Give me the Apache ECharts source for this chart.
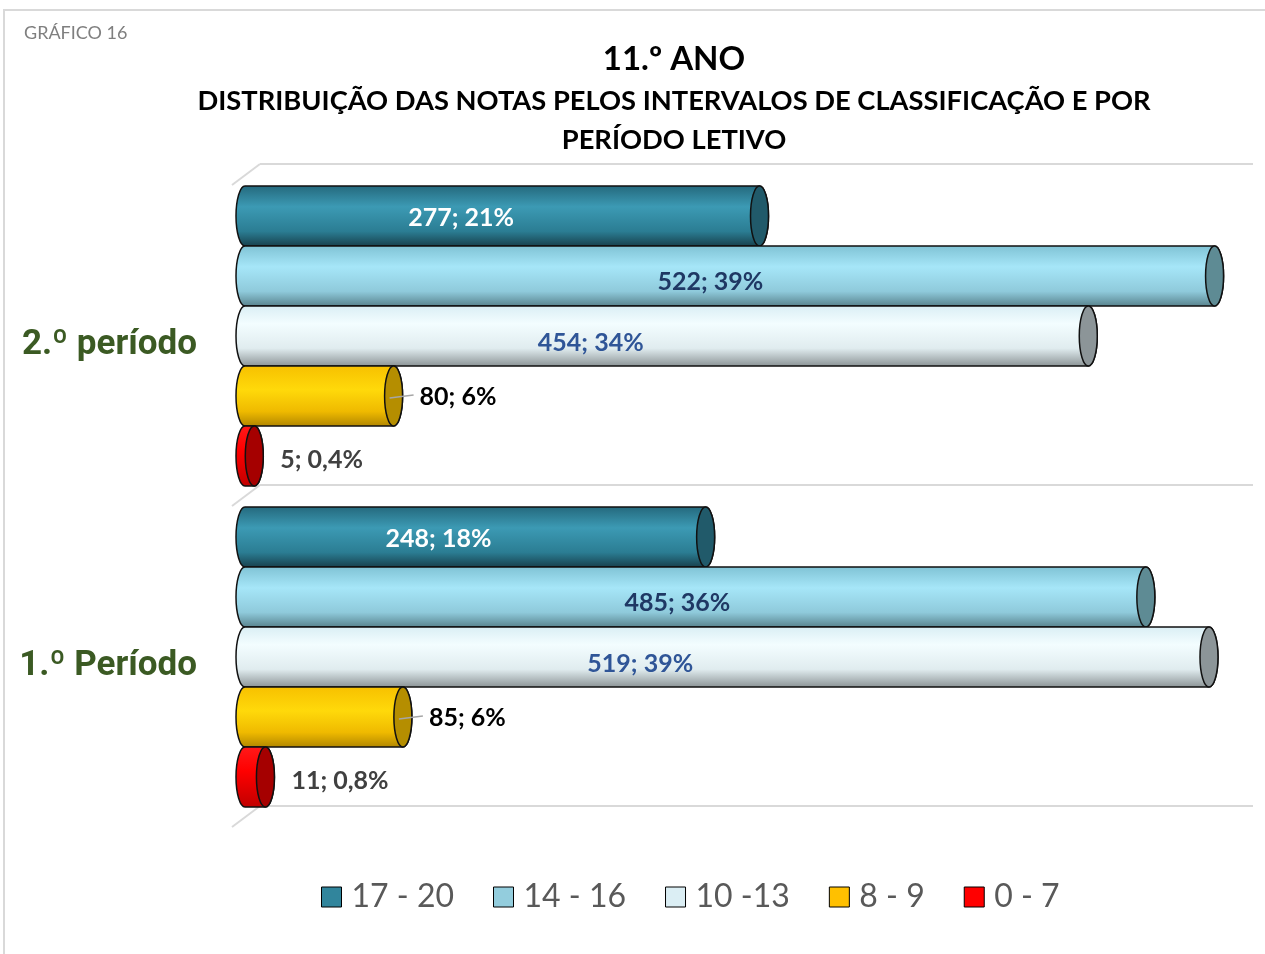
<!DOCTYPE html>
<html><head><meta charset="utf-8">
<script src="https://cdn.jsdelivr.net/npm/echarts@6/dist/echarts.min.js"></script>
<style>html,body{margin:0;padding:0;background:#fff}#c{width:1265px;height:954px}</style>
</head><body><div id="c"></div>
<script>
// ---- data ----
const categories = ['1.º Período', '2.º período'];
const seriesNames = ['17 - 20', '14 - 16', '10 -13', '8 - 9', '0 - 7'];
const v17_20 = [248, 277];
const v14_16 = [485, 522];
const v10_13 = [519, 454];
const v8_9 = [85, 80];
const v0_7 = [11, 5];
const titleMain = '11.º ANO';
const titleSub1 = 'DISTRIBUIÇÃO DAS NOTAS PELOS INTERVALOS DE CLASSIFICAÇÃO E POR';
const titleSub2 = 'PERÍODO LETIVO';
const chartTag = 'GRÁFICO 16';

const allValues = [v17_20, v14_16, v10_13, v8_9, v0_7];
const totals = categories.map((_, c) => allValues.reduce((s, arr) => s + arr[c], 0));
function pctText(v, c) {
  const p = v / totals[c] * 100;
  return p < 1 ? p.toFixed(1).replace('.', ',') + '%' : Math.round(p) + '%';
}

// ---- styles ----
const legendColors = ['#31859C', '#93CDDD', '#DBEEF4', '#FFC000', '#FF0000'];
const bodyStops = [
  [[0, '#24687c'], [0.35, '#3c9ab4'], [0.75, '#2b7d93'], [1, '#173f4b']],
  [[0, '#7fc2d4'], [0.35, '#a6e6f8'], [0.75, '#8fcadb'], [1, '#57818b']],
  [[0, '#d9eef4'], [0.3, '#f3fdff'], [0.7, '#e0ecef'], [1, '#8a9294']],
  [[0, '#f7c000'], [0.4, '#ffd90a'], [0.75, '#efba00'], [1, '#b08500']],
  [[0, '#ff1a1a'], [0.4, '#ff0000'], [1, '#c00000']]
];
const capColors = ['#215a6a', '#5e8b94', '#8c9598', '#b58e00', '#a50000'];
const labelColors = ['#ffffff', '#1f3864', '#2f5597', '#000000', '#404040'];
const labelInside = [true, true, true, false, false];
const labelFrac = [0.42, 0.48, 0.41, 0, 0];
const labelDy = [2, 6, 7, 1, 4];
const BAR_FRAC = 300 / 321;
const RX = 9;
const LABEL_FONT = 'bold 25px Lato, "Open Sans", sans-serif';

function makeRender(si) {
  return function (params, api) {
    const v = api.value(0), c = api.value(1);
    const pc = api.coord([0, c]);
    const pe = api.coord([v, c]);
    const band = api.size([0, 1])[1];
    const bh = band * BAR_FRAC / 5;
    const top = pc[1] - band / 2 + si * bh + 1;
    const bot = top + bh;
    const cy = (top + bot) / 2;
    const x0 = pc[0], x1 = pe[0];
    const ry = bh / 2;
    const body = `M${x0} ${top} L${x1} ${top} A${RX} ${ry} 0 0 1 ${x1} ${bot} L${x0} ${bot} A${RX} ${ry} 0 0 1 ${x0} ${top} Z`;
    const cap = `M${x1 - RX} ${cy} A${RX} ${ry} 0 1 1 ${x1 + RX} ${cy} A${RX} ${ry} 0 1 1 ${x1 - RX} ${cy} Z`;
    const txt = v + '; ' + pctText(v, c);
    const children = [
      { type: 'path', shape: { pathData: body }, style: {
          fill: { type: 'linear', x: 0, y: 0, x2: 0, y2: 1,
                  colorStops: bodyStops[si].map(s => ({ offset: s[0], color: s[1] })) },
          stroke: '#111', lineWidth: 1.5 } },
      { type: 'path', shape: { pathData: cap }, style: { fill: capColors[si], stroke: '#111', lineWidth: 1.5 } }
    ];
    if (labelInside[si]) {
      children.push({ type: 'text', x: x0 + (x1 - x0) * labelFrac[si], y: cy + labelDy[si],
        style: { text: txt, fill: labelColors[si], font: LABEL_FONT, align: 'center', verticalAlign: 'middle', textAlign: 'center', textVerticalAlign: 'middle' } });
    } else {
      const tx = x1 + 26;
      if (si === 3) {
        children.push({ type: 'line', shape: { x1: x1 - 4, y1: cy + 2, x2: tx - 6, y2: cy - 1 }, style: { stroke: '#a6a6a6', lineWidth: 1.5 } });
      }
      children.push({ type: 'text', x: tx, y: cy + labelDy[si],
        style: { text: txt, fill: labelColors[si], font: LABEL_FONT, align: 'left', verticalAlign: 'middle', textAlign: 'left', textVerticalAlign: 'middle' } });
    }
    return { type: 'group', children: children };
  };
}

const chart = echarts.init(document.getElementById('c'), null, { renderer: 'canvas' });
const GRID = { left: 245, top: 185, width: 1003, height: 642 };
const option = {
  backgroundColor: '#ffffff',
  animation: false,
  grid: [{ left: GRID.left, top: GRID.top, width: GRID.width, height: GRID.height }],
  xAxis: [{ type: 'value', min: 0, max: 540, show: false }],
  yAxis: [{ type: 'category', data: categories,
    axisLine: { show: false }, axisTick: { show: false }, splitLine: { show: false },
    axisLabel: { margin: 48, fontSize: 35, fontWeight: 'bold', color: '#3b5a23',
      fontFamily: 'Roboto, "Liberation Sans", sans-serif' } }],
  legend: {
    left: 321, top: 881, padding: 0, itemWidth: 20, itemHeight: 20, itemGap: 39,
    textStyle: { fontSize: 32, color: '#595959', fontFamily: 'Lato, "Open Sans", sans-serif', padding: [0, 0, 0, 5] },
    data: seriesNames.map((n, i) => ({ name: n, icon: 'rect', itemStyle: { color: legendColors[i], borderColor: '#000', borderWidth: 1 } }))
  },
  series: allValues.map((arr, si) => ({
    type: 'custom', name: seriesNames[si], clip: false,
    itemStyle: { color: legendColors[si] },
    encode: { x: 0, y: 1 },
    data: arr.map((v, c) => [v, c]),
    renderItem: makeRender(si),
    z: 3
  }))
};
chart.setOption(option);

// decorative back-wall floor lines and titles
const pA = chart.convertToPixel({ gridIndex: 0 }, [0, 0]);
const pB = chart.convertToPixel({ gridIndex: 0 }, [0, 1]);
const band = pA[1] - pB[1];
const bounds = [pB[1] - band / 2, pB[1] + band / 2, pA[1] + band / 2];
const DX = 28, DY = 21;
const frontX = GRID.left - 13;
const backRight = GRID.left + GRID.width + 5;
const g = [];
bounds.forEach(y => {
  g.push({ type: 'line', z: 0, shape: { x1: frontX, y1: y, x2: frontX + DX, y2: y - DY }, style: { stroke: '#d9d9d9', lineWidth: 2 } });
  g.push({ type: 'line', z: 0, shape: { x1: frontX + DX, y1: y - DY, x2: backRight, y2: y - DY }, style: { stroke: '#d9d9d9', lineWidth: 2 } });
});
g.push({ type: 'rect', z: 0, shape: { x: 4, y: 10, width: 1300, height: 1000 }, style: { fill: 'none', stroke: '#d9d9d9', lineWidth: 2 } });
g.push({ type: 'text', x: 24, y: 33, style: { text: chartTag, fill: '#7f7f7f', font: '18px Lato, "Open Sans", sans-serif', align: 'left', verticalAlign: 'middle' } });
g.push({ type: 'text', x: 674, y: 59, style: { text: titleMain, fill: '#000', font: 'bold 33px Lato, "Open Sans", sans-serif', align: 'center', verticalAlign: 'middle' } });
g.push({ type: 'text', x: 674, y: 101, style: { text: titleSub1, fill: '#000', font: 'bold 27.3px Lato, "Open Sans", sans-serif', align: 'center', verticalAlign: 'middle' } });
g.push({ type: 'text', x: 674, y: 140, style: { text: titleSub2, fill: '#000', font: 'bold 27.3px Lato, "Open Sans", sans-serif', align: 'center', verticalAlign: 'middle' } });
chart.setOption({ graphic: g });
</script></body></html>
